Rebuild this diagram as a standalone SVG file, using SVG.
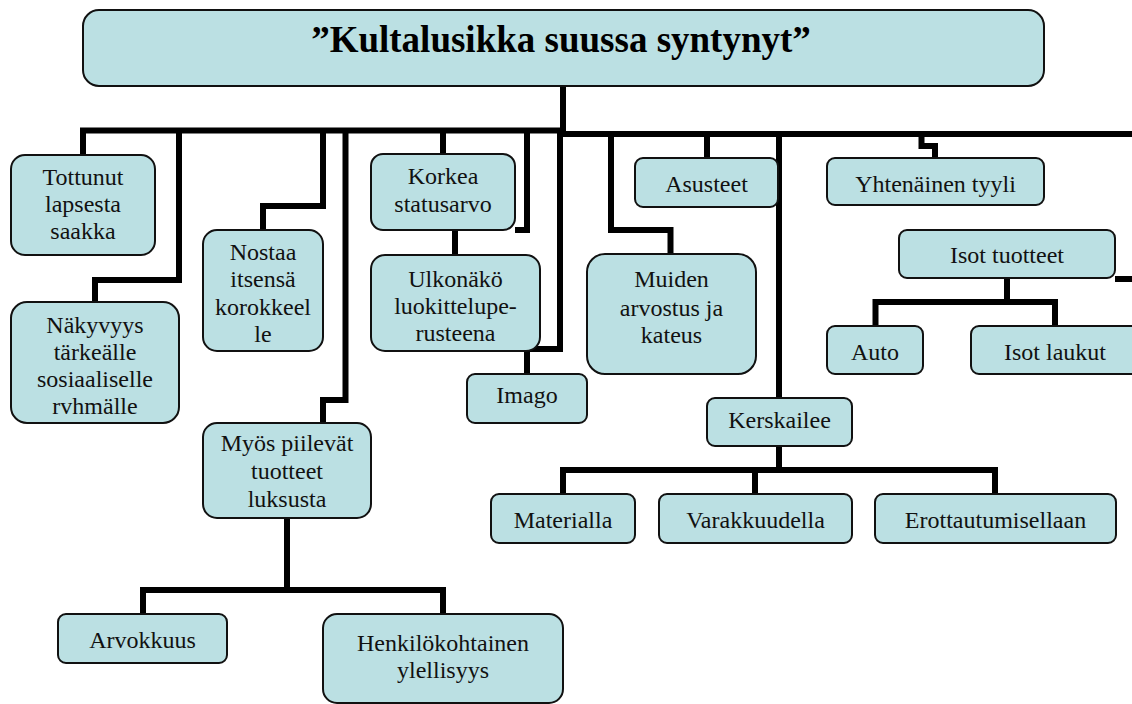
<svg xmlns="http://www.w3.org/2000/svg" width="1132" height="704" viewBox="0 0 1132 704">
  <style>
    .box { fill: #bbe0e3; stroke: #111; stroke-width: 2; }
    .lbl { font-family: "Liberation Serif", "Times New Roman", serif; font-size: 24px; fill: #111; text-anchor: middle; }
    .title { font-family: "Liberation Serif", "Times New Roman", serif; font-size: 37px; font-weight: bold; fill: #000; text-anchor: middle; }
    .wire { fill: none; stroke: #000; stroke-width: 6; stroke-linejoin: miter; stroke-linecap: butt; }
  </style>
  <rect width="1132" height="704" fill="#fff"/>

  <!-- connectors -->
  <g id="connectors" class="wire">
    <path d="M563 86 V132"/>
    <path d="M83 155 V130.5 H566"/>
    <path d="M557 134 H1132"/>
    <path d="M179 130 V280 H95 V302"/>
    <path d="M323 130 V206 H263 V230"/>
    <path d="M345.5 130 V400 H323 V423"/>
    <path d="M443 130 V154"/>
    <path d="M527 130 V230 H515"/>
    <path d="M455 230 V255"/>
    <path d="M560 134 V349 H527 V374"/>
    <path d="M611 134 V230 H670.5 V254"/>
    <path d="M707 134 V158"/>
    <path d="M779 134 V398"/>
    <path d="M921.5 134 V146 H935 V158"/>
    <path d="M1115 279 H1140"/>
    <path d="M1007 278 V302"/>
    <path d="M875.5 326 V302 H1055 V326"/>
    <path d="M287 518 V590"/>
    <path d="M143 614 V590 H443 V614"/>
    <path d="M779 446 V470"/>
    <path d="M563 494 V470 H995 V494"/>
    <path d="M755 470 V494"/>
  </g>

  <!-- nodes -->
  <g id="title">
    <rect class="box" x="83" y="10" width="961" height="76" rx="16"/>
    <text class="title" x="561" y="52">”Kultalusikka suussa syntynyt”</text>
  </g>

  <g id="tottunut">
    <rect class="box" x="11" y="155" width="144" height="100" rx="14"/>
    <text class="lbl" x="83" y="185">Tottunut</text>
    <text class="lbl" x="83" y="212">lapsesta</text>
    <text class="lbl" x="83" y="239">saakka</text>
  </g>

  <g id="nakyvyys">
    <rect class="box" x="11" y="302" width="168" height="121" rx="16"/>
    <text class="lbl" x="95" y="333">Näkyvyys</text>
    <text class="lbl" x="95" y="360">tärkeälle</text>
    <text class="lbl" x="95" y="387">sosiaaliselle</text>
    <text class="lbl" x="95" y="414">rvhmälle</text>
  </g>

  <g id="nostaa">
    <rect class="box" x="203" y="230" width="120" height="121" rx="14"/>
    <text class="lbl" x="263" y="260">Nostaa</text>
    <text class="lbl" x="263" y="287">itsensä</text>
    <text class="lbl" x="263" y="315">korokkeel</text>
    <text class="lbl" x="263" y="342">le</text>
  </g>

  <g id="myos">
    <rect class="box" x="203" y="423" width="168" height="95" rx="14"/>
    <text class="lbl" x="287" y="451">Myös piilevät</text>
    <text class="lbl" x="287" y="479">tuotteet</text>
    <text class="lbl" x="287" y="507">luksusta</text>
  </g>

  <g id="arvokkuus">
    <rect class="box" x="58" y="614" width="169" height="49" rx="8"/>
    <text class="lbl" x="142.5" y="648">Arvokkuus</text>
  </g>

  <g id="henkilokohtainen">
    <rect class="box" x="323" y="614" width="240" height="89" rx="14"/>
    <text class="lbl" x="443" y="651">Henkilökohtainen</text>
    <text class="lbl" x="443" y="678">ylellisyys</text>
  </g>

  <g id="korkea">
    <rect class="box" x="371" y="154" width="144" height="76" rx="12"/>
    <text class="lbl" x="443" y="184">Korkea</text>
    <text class="lbl" x="443" y="212">statusarvo</text>
  </g>

  <g id="ulkonako">
    <rect class="box" x="371" y="255" width="169" height="96" rx="14"/>
    <text class="lbl" x="455.5" y="287">Ulkonäkö</text>
    <text class="lbl" x="455.5" y="314">luokittelupe-</text>
    <text class="lbl" x="455.5" y="341">rusteena</text>
  </g>

  <g id="imago">
    <rect class="box" x="467" y="374" width="120" height="49" rx="8"/>
    <text class="lbl" x="527" y="403">Imago</text>
  </g>

  <g id="muiden">
    <rect class="box" x="587" y="254" width="169" height="120" rx="18"/>
    <text class="lbl" x="671.5" y="287">Muiden</text>
    <text class="lbl" x="671.5" y="316">arvostus ja</text>
    <text class="lbl" x="671.5" y="343">kateus</text>
  </g>

  <g id="asusteet">
    <rect class="box" x="635" y="158" width="143" height="49" rx="8"/>
    <text class="lbl" x="706.5" y="192">Asusteet</text>
  </g>

  <g id="yhtenainen">
    <rect class="box" x="827" y="158" width="217" height="47" rx="8"/>
    <text class="lbl" x="935.5" y="192">Yhtenäinen tyyli</text>
  </g>

  <g id="isot-tuotteet">
    <rect class="box" x="899" y="230" width="216" height="48" rx="8"/>
    <text class="lbl" x="1007" y="263">Isot tuotteet</text>
  </g>

  <g id="auto">
    <rect class="box" x="827" y="326" width="96" height="48" rx="8"/>
    <text class="lbl" x="875" y="360">Auto</text>
  </g>

  <g id="isot-laukut">
    <rect class="box" x="971" y="326" width="172" height="48" rx="8"/>
    <text class="lbl" x="1055" y="360">Isot laukut</text>
  </g>

  <g id="kerskailee">
    <rect class="box" x="707" y="398" width="145" height="48" rx="8"/>
    <text class="lbl" x="779.5" y="428">Kerskailee</text>
  </g>

  <g id="materialla">
    <rect class="box" x="491" y="494" width="144" height="49" rx="8"/>
    <text class="lbl" x="563" y="528">Materialla</text>
  </g>

  <g id="varakkuudella">
    <rect class="box" x="659" y="494" width="193" height="49" rx="8"/>
    <text class="lbl" x="755.5" y="528">Varakkuudella</text>
  </g>

  <g id="erottautumisellaan">
    <rect class="box" x="875" y="494" width="241" height="49" rx="8"/>
    <text class="lbl" x="995.5" y="528">Erottautumisellaan</text>
  </g>
</svg>
